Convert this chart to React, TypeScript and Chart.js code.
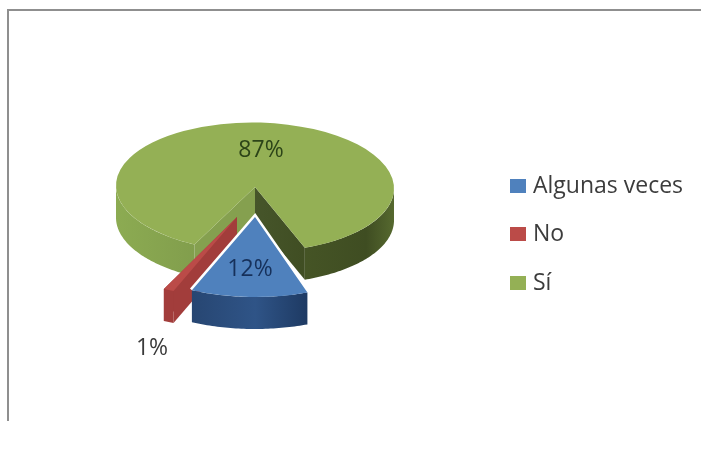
import React, { useEffect, useRef } from "react";
import { Chart, registerables } from "chart.js";

Chart.register(...registerables);

const categories = ["Algunas veces", "No", "Sí"];
const values = [12, 1, 87];
const valueLabels = ["12%", "1%", "87%"];

const topColors = ["#4f81bd", "#bb4b48", "#94b055"];
const FONT = "'Open Sans'";

const deg = Math.PI / 180;
// Projection of each slice: apex on screen, horizontal and vertical radius, shear, extra turn, wall height
const GEOM = [
  { cx: 255, cy: 217, rx: 157, ry: 80, k: 0, rot: 1.5 * deg, depth: 32 },
  { cx: 237, cy: 217, rx: 168, ry: 80, k: 0, rot: 0, depth: 32 },
  { cx: 255, cy: 187, rx: 139, ry: 64.5, k: 0.01, rot: 0, depth: 32 },
];
const LABEL_POS = [
  { x: 250, y: 269, color: "#16305a" },
  { x: 152, y: 348, color: "#3a3a3a" },
  { x: 261, y: 150, color: "#2c4418" },
];
const LEGEND_BOX_X = 510;
const LEGEND_TEXT_X = 533;
const LEGEND_ROWS = [186, 234, 283];

function rimPoint(g: any, a: number) {
  const dx = g.rx * Math.cos(a);
  return { x: g.cx + dx, y: g.cy + g.ry * Math.sin(a) + g.k * dx };
}

function fillWall(ctx: any, g: any, a0: number, a1: number, fill: any) {
  const n = Math.max(4, Math.ceil((a1 - a0) / (1 * deg)));
  ctx.beginPath();
  for (let i = 0; i <= n; i++) {
    const p = rimPoint(g, a0 + ((a1 - a0) * i) / n);
    if (i === 0) ctx.moveTo(p.x, p.y);
    else ctx.lineTo(p.x, p.y);
  }
  for (let i = n; i >= 0; i--) {
    const p = rimPoint(g, a0 + ((a1 - a0) * i) / n);
    ctx.lineTo(p.x, p.y + g.depth);
  }
  ctx.closePath();
  ctx.fillStyle = fill;
  ctx.fill();
}

function fillSide(ctx: any, g: any, a: number, fill: any) {
  const p = rimPoint(g, a);
  ctx.beginPath();
  ctx.moveTo(g.cx, g.cy);
  ctx.lineTo(p.x, p.y);
  ctx.lineTo(p.x, p.y + g.depth);
  ctx.lineTo(g.cx, g.cy + g.depth);
  ctx.closePath();
  ctx.fillStyle = fill;
  ctx.fill();
}

function hGradient(ctx: any, x0: number, x1: number, stops: [number, string][]) {
  const grad = ctx.createLinearGradient(x0, 0, x1, 0);
  stops.forEach(([o, c]) => grad.addColorStop(o, c));
  return grad;
}

const slice3d = {
  id: "slice3d",
  beforeDatasetDraw(chart: any, args: any) {
    const ctx = chart.ctx;
    const arcs = args.meta.data;
    [2, 1, 0].forEach((i) => {
      const el = arcs[i];
      const g = GEOM[i];
      const s = el.startAngle + g.rot;
      const e = el.endAngle + g.rot;
      ctx.save();
      if (i === 2) {
        fillSide(ctx, g, s, "#85a04f");
        fillSide(ctx, g, e, hGradient(ctx, g.cx, g.cx + 55, [[0, "#46552a"], [1, "#3f4d22"]]));
        const wall = hGradient(ctx, g.cx - g.rx, g.cx + g.rx, [
          [0, "#8cab52"],
          [0.35, "#7f9b4b"],
          [0.5, "#4a5a28"],
          [0.9, "#3f4d22"],
          [1, "#56692f"],
        ]);
        fillWall(ctx, g, s, 180 * deg, wall);
        fillWall(ctx, g, 360 * deg, e, wall);
      } else if (i === 1) {
        fillSide(ctx, g, s, "#a23d3b");
        fillSide(ctx, g, e, "#a23d3b");
        fillWall(ctx, g, s, e, "#a23d3b");
      } else {
        const a = rimPoint(g, s);
        const b = rimPoint(g, e);
        ctx.beginPath();
        ctx.moveTo(a.x, a.y);
        ctx.lineTo(g.cx, g.cy);
        ctx.lineTo(b.x, b.y);
        ctx.strokeStyle = "#ffffff";
        ctx.lineWidth = 5;
        ctx.lineJoin = "miter";
        ctx.stroke();
        fillWall(
          ctx,
          g,
          s,
          e,
          hGradient(ctx, b.x, a.x, [
            [0, "#274672"],
            [0.55, "#2f5487"],
            [1, "#1e3a63"],
          ])
        );
      }
      ctx.restore();

      const R = el.outerRadius;
      const ma = g.rx / R;
      const mb = (g.k * g.rx) / R;
      const md = g.ry / R;
      ctx.save();
      ctx.transform(ma, mb, 0, md, g.cx - ma * el.x, g.cy - mb * el.x - md * el.y);
      ctx.translate(el.x, el.y);
      ctx.rotate(g.rot);
      ctx.translate(-el.x, -el.y);
      el.draw(ctx, chart.chartArea);
      ctx.restore();
    });
    return false;
  },
  afterDatasetsDraw(chart: any) {
    const ctx = chart.ctx;
    ctx.save();
    ctx.textBaseline = "middle";
    ctx.font = `23px ${FONT}`;
    ctx.textAlign = "center";
    valueLabels.forEach((t, i) => {
      ctx.fillStyle = LABEL_POS[i].color;
      ctx.fillText(t, LABEL_POS[i].x, LABEL_POS[i].y);
    });
    ctx.textAlign = "left";
    categories.forEach((t, i) => {
      const y = LEGEND_ROWS[i];
      ctx.fillStyle = topColors[i];
      ctx.fillRect(LEGEND_BOX_X, y - 7, 16, 14);
      ctx.fillStyle = "#3c3c3c";
      ctx.fillText(t, LEGEND_TEXT_X, y);
    });
    ctx.restore();
  },
};

export default function App() {
  const ref = useRef<HTMLCanvasElement>(null);
  useEffect(() => {
    document.body.style.margin = "0";
    document.body.style.background = "#ffffff";
    const chart = new Chart(ref.current as HTMLCanvasElement, {
      type: "pie",
      data: {
        labels: categories,
        datasets: [
          { data: values, backgroundColor: topColors, borderWidth: 0 },
        ],
      },
      options: {
        responsive: false,
        animation: false,
        rotation: 159,
        plugins: {
          tooltip: { enabled: false },
          legend: { display: false },
        },
      },
      plugins: [slice3d],
    } as any);
    return () => chart.destroy();
  }, []);
  return (
    <div style={{ position: "relative", width: 701, height: 449, overflow: "hidden", filter: "blur(0.6px)" }}>
      <canvas ref={ref} width={701} height={449} style={{ display: "block" }} />
      <div style={{ position: "absolute", left: 7, top: 9, width: 694, height: 2, background: "#8f8f8f" }} />
      <div style={{ position: "absolute", left: 7, top: 9, width: 2, height: 412, background: "#8f8f8f" }} />
    </div>
  );
}
